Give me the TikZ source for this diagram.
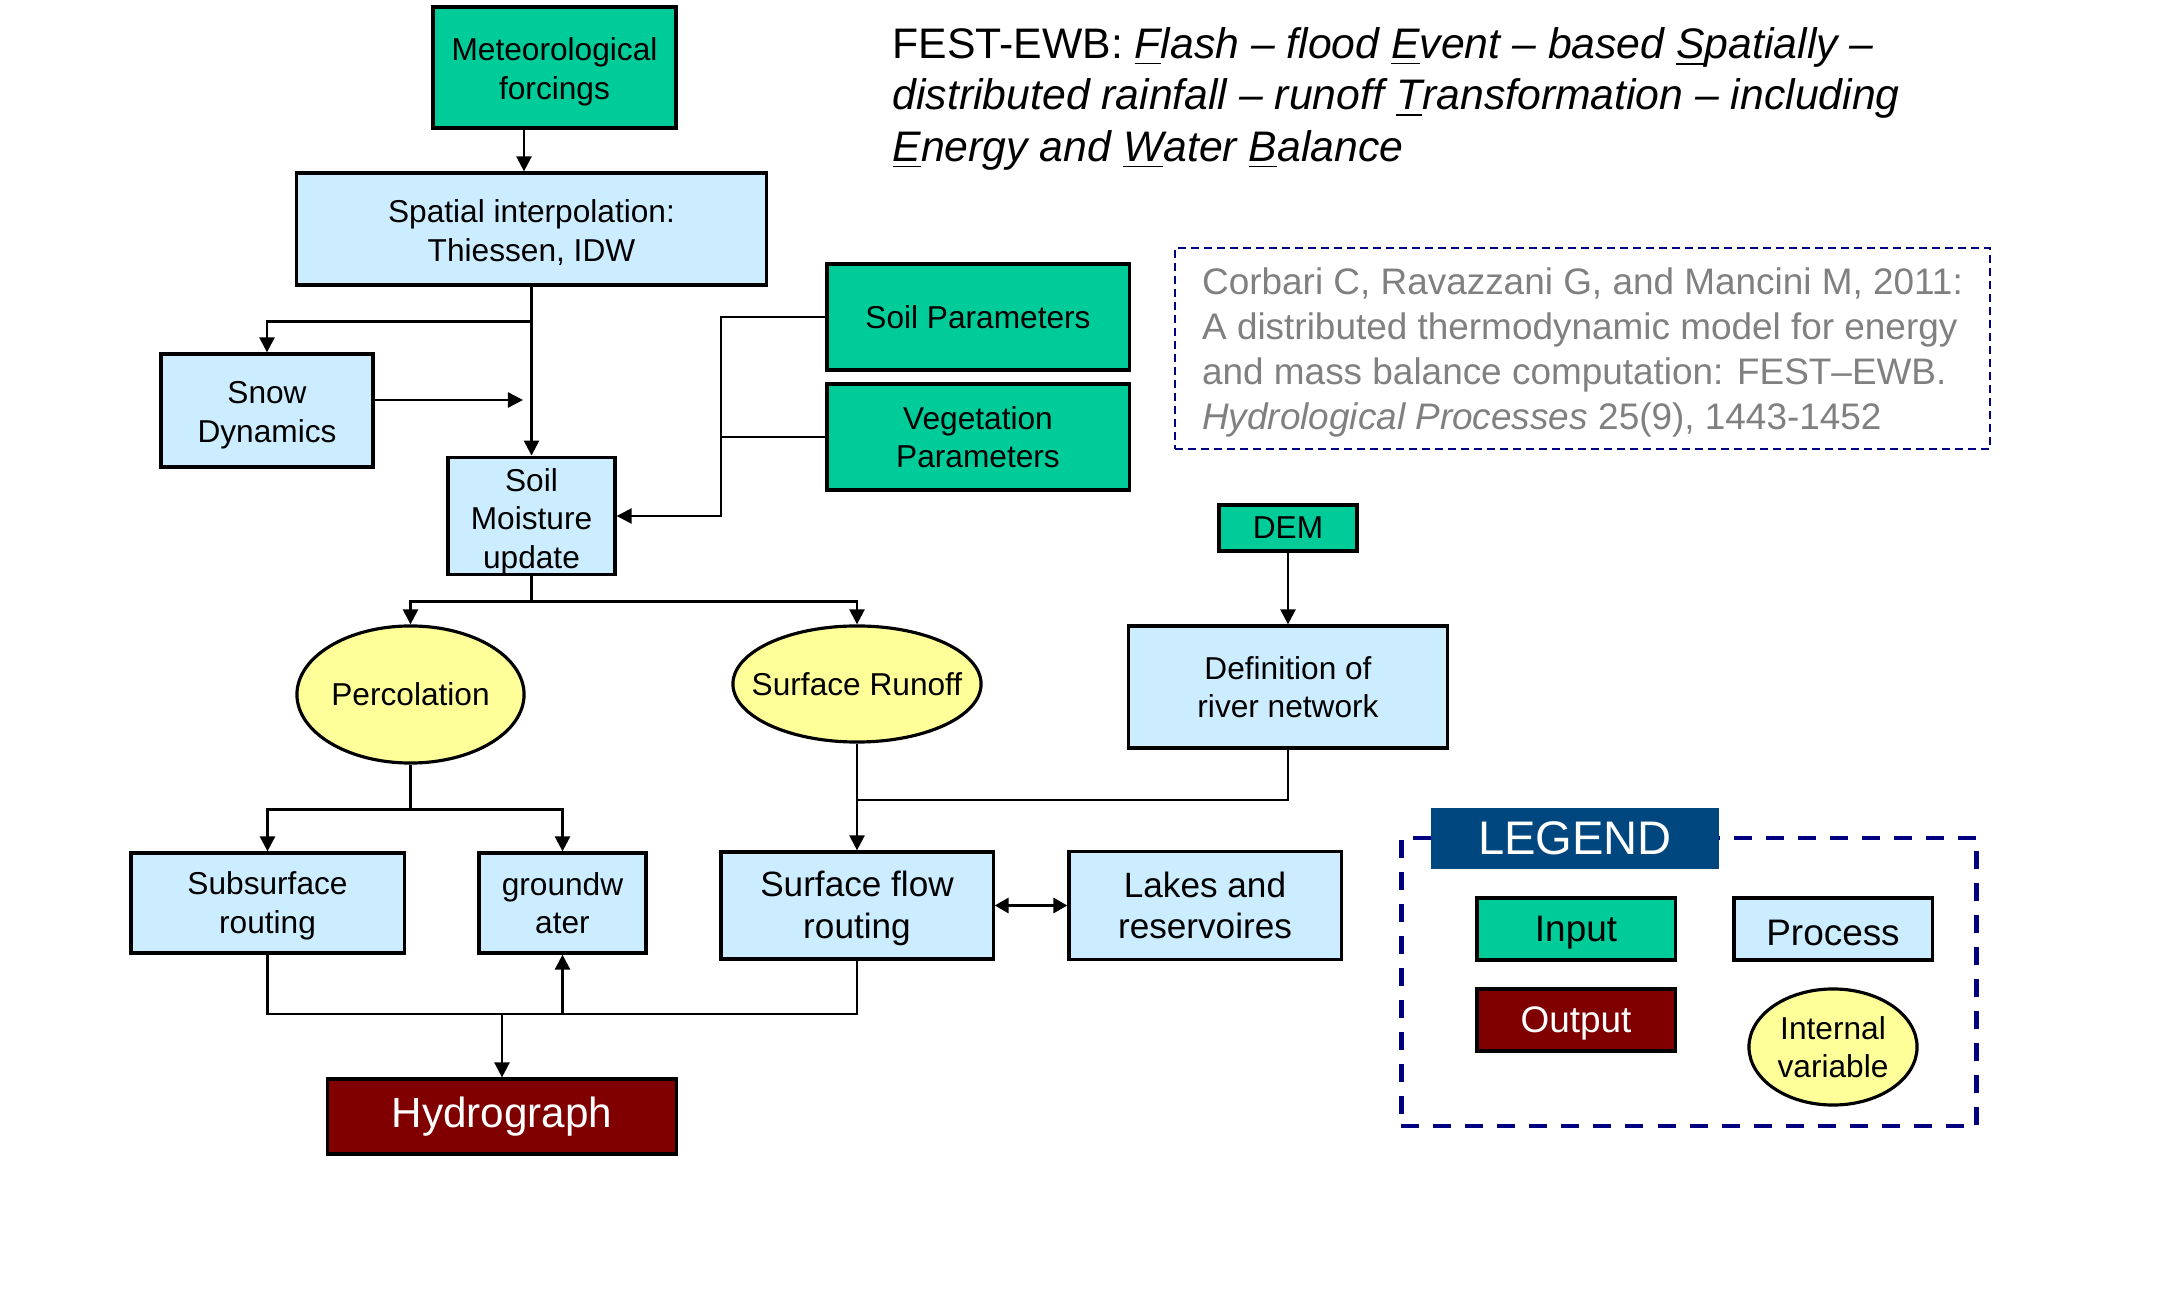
\documentclass[tikz,border=0pt]{standalone}
\usepackage{fontspec}
\setmainfont{Liberation Sans}
\usetikzlibrary{arrows.meta,shapes.geometric,calc}
\definecolor{ingreen}{RGB}{0,204,153}
\definecolor{proc}{RGB}{204,236,255}
\definecolor{varyellow}{RGB}{255,255,153}
\definecolor{outred}{RGB}{128,0,0}
\definecolor{navyd}{RGB}{0,0,128}
\definecolor{legblue}{RGB}{0,70,127}
\definecolor{citegray}{RGB}{128,128,128}
\newcommand{\mystrut}[1]{\rule{0pt}{#1}}
\begin{document}
\begin{tikzpicture}[x=0.01cm,y=-0.01cm,
  base/.style={draw=black, line width=0.9pt, inner sep=0pt, align=center, font=\fontsize{9}{10.9}\selectfont},
  inbox/.style={base, rectangle, fill=ingreen},
  procbox/.style={base, rectangle, fill=proc},
  varell/.style={base, ellipse, fill=varyellow},
  outbox/.style={base, rectangle, fill=outred, text=white},
  sz/.style 2 args={minimum width=#1, minimum height=#2},
  conn/.style={line width=0.7pt},
  arr/.style={conn, -{Triangle[length=0.15cm,width=0.15cm]}},
  darr/.style={line width=0.9pt, {Triangle[length=0.14cm,width=0.15cm]}-{Triangle[length=0.14cm,width=0.15cm]}},
  bigtext/.style={font=\fontsize{10}{11.8}\selectfont},
  legtext/.style={font=\fontsize{10.5}{12.6}\selectfont}
]
\useasboundingbox[fill=white] (0,0) rectangle (2176,1307);

% title
\node[anchor=north west, inner sep=0pt, align=left, font=\fontsize{12.15}{14.6}\selectfont] (title) at (892,27)
 {FEST-EWB: \textit{\underline{F}lash -- flood \underline{E}vent -- based \underline{S}patially --}\\
  \textit{distributed rainfall -- runoff \underline{T}ransformation -- including}\\
  \textit{\underline{E}nergy and \underline{W}ater \underline{B}alance}};

% citation
\node[draw=navyd, dash pattern=on 0.08cm off 0.05cm, line width=0.6pt, sz={8.15cm}{2.01cm}, align=left, inner sep=0pt, text=citegray, font=\fontsize{10.5}{12.8}\selectfont] (cite) at (1582.5,348.5)
 {\mystrut{10pt}Corbari C, Ravazzani G, and Mancini M, 2011:\\
  A distributed thermodynamic model for energy\\
  and mass balance computation: FEST--EWB.\\
  \textit{Hydrological Processes} 25(9), 1443-1452};

% main nodes
\node[inbox, sz={2.43cm}{1.21cm}] (meteo) at (554.5,67.5) {\mystrut{9pt}Meteorological\\forcings};
\node[procbox, sz={4.69cm}{1.12cm}] (spatial) at (531.5,229) {\mystrut{8.5pt}Spatial interpolation:\\Thiessen, IDW};
\node[procbox, sz={2.12cm}{1.13cm}] (snow) at (267,410.5) {\mystrut{9pt}Snow\\Dynamics};
\node[procbox, sz={1.67cm}{1.14cm}] (soilm) at (531.5,516) {\mystrut{9.8pt}Soil\\Moisture\\update};
\node[inbox, sz={3.02cm}{1.06cm}] (soilpar) at (978,317) {Soil Parameters};
\node[inbox, sz={3.02cm}{1.06cm}] (veg) at (978,437) {Vegetation\\Parameters};
\node[inbox, sz={1.38cm}{0.46cm}] (dem) at (1288,528) {DEM};
\node[procbox, sz={3.19cm}{1.22cm}] (defn) at (1288,687) {Definition of\\river network};
\node[varell, sz={2.27cm}{1.37cm}] (perc) at (410.5,694.5) {Percolation};
\node[varell, sz={2.48cm}{1.16cm}] (runoff) at (857,684) {\makebox[0pt]{Surface Runoff}};
\node[procbox, sz={2.73cm}{1.00cm}] (subsurf) at (267.5,903) {\mystrut{8.2pt}Subsurface\\routing};
\node[procbox, sz={1.67cm}{1.00cm}] (ground) at (562.5,903) {groundw\\ater};
\node[procbox, bigtext, sz={2.72cm}{1.07cm}] (sflow) at (857,905.5) {\mystrut{8.8pt}Surface flow\\routing};
\node[procbox, bigtext, sz={2.72cm}{1.08cm}] (lakes) at (1205,905.5) {Lakes and\\reservoires};
\node[outbox, sz={3.48cm}{0.75cm}, font=\fontsize{12}{14}\selectfont] (hydro) at (502,1116.5) {Hydrograph};

% legend
\node[draw=navyd, line width=1.3pt, dash pattern=on 0.18cm off 0.14cm, sz={5.75cm}{2.88cm}, inner sep=0pt] (legend) at (1689,982) {};
\node[fill=legblue, text=white, sz={2.88cm}{0.61cm}, inner sep=0pt, font=\fontsize{13.4}{16}\selectfont] (leghead) at (1575,838.5) {LEGEND};
\node[inbox, legtext, sz={1.98cm}{0.62cm}] (lin) at (1576,929) {\mystrut{9.5pt}Input};
\node[procbox, legtext, sz={1.98cm}{0.62cm}] (lproc) at (1833,929) {\mystrut{9.3pt}Process};
\node[outbox, legtext, sz={1.98cm}{0.62cm}] (lout) at (1576,1020) {\mystrut{9.5pt}Output};
\node[varell, sz={1.68cm}{1.16cm}] (lvar) at (1833,1047) {Internal\\variable};

% connectors
\coordinate (xmet) at (524,0);
\draw[arr] (meteo.south -| xmet) -- (spatial.north -| xmet);
\draw[arr] (spatial.south) -- (soilm.north);
\draw[arr] (spatial.south) ++(0,35) -| (snow.north);
\coordinate (snowend) at (523,400);
\draw[arr] (snow.east |- snowend) -- (snowend);
\coordinate (xj) at (721,0);
\draw[arr] (soilpar.west) -| (xj |- soilm.east) -- (soilm.east);
\draw[conn] (veg.west) -- (veg.west -| xj);
\draw[conn] (soilm.south) -- ++(0,25) coordinate (b1);
\draw[arr] (b1) -| (perc.north);
\draw[arr] (b1) -| (runoff.north);
\draw[arr] (dem.south) -- (defn.north);
\draw[arr] (runoff.south) -- (sflow.north);
\coordinate (j2) at (0,800);
\draw[conn] (defn.south) |- (sflow.north |- j2);
\draw[conn] (perc.south) -- ++(0,45) coordinate (b2);
\draw[arr] (b2) -| (subsurf.north);
\draw[arr] (b2) -| (ground.north);
\draw[darr] (sflow.east) -- (lakes.west);
\coordinate (bus) at (0,1014);
\draw[conn] (subsurf.south) |- (sflow.south |- bus) -- (sflow.south);
\draw[arr] (hydro.north |- bus) -- (hydro.north);
\draw[arr] (ground.south |- bus) -- (ground.south);
\end{tikzpicture}
\end{document}
